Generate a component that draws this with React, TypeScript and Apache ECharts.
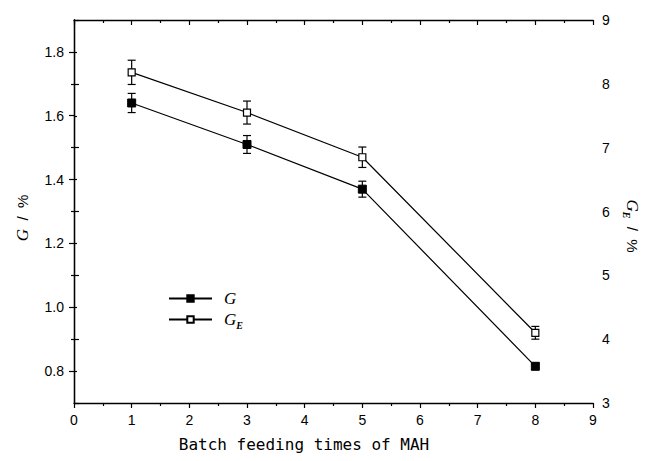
import React, { useEffect, useRef } from "react";
import * as echarts from "echarts";

// Batch feeding times of MAH
const feedTimes = [1, 3, 5, 8];
// Grafting degree G (%), left axis
const gValues = [1.64, 1.51, 1.37, 0.815];
const gErrors = [0.03, 0.028, 0.025, 0.01];
// Grafting efficiency G_E (%), right axis
const geValues = [8.18, 7.55, 6.85, 4.1];
const geErrors = [0.19, 0.18, 0.16, 0.1];

const leftMajorTicks = [0.8, 1.0, 1.2, 1.4, 1.6, 1.8];
const leftMinorTicks = [0.9, 1.1, 1.3, 1.5, 1.7];

const tickFont = "Liberation Sans, Arial, sans-serif";
const symbolFont = "Liberation Serif, Times New Roman, serif";

const richTitle = {
  g: { fontFamily: symbolFont, fontStyle: "italic", fontSize: 17, lineHeight: 22, verticalAlign: "middle", fill: "#000", color: "#000" },
  s: { fontFamily: symbolFont, fontStyle: "italic", fontWeight: "bold", fontSize: 10, lineHeight: 10, verticalAlign: "bottom", fill: "#000", color: "#000" },
  n: { fontFamily: tickFont, fontSize: 15, lineHeight: 22, verticalAlign: "middle", fill: "#000", color: "#000" },
};

function errorBarSeries(name: string, values: number[], errors: number[], yAxisIndex: number) {
  return {
    name: name + "-err",
    type: "custom",
    yAxisIndex,
    z: 1,
    silent: true,
    data: feedTimes.map((x, i) => [x, values[i] - errors[i], values[i] + errors[i]]),
    renderItem: (_params: any, api: any) => {
      const lo = api.coord([api.value(0), api.value(1)]);
      const hi = api.coord([api.value(0), api.value(2)]);
      const half = 4;
      const style = { stroke: "#000", lineWidth: 1.2 };
      return {
        type: "group",
        children: [
          { type: "line", shape: { x1: lo[0], y1: lo[1], x2: hi[0], y2: hi[1] }, style },
          { type: "line", shape: { x1: lo[0] - half, y1: lo[1], x2: lo[0] + half, y2: lo[1] }, style },
          { type: "line", shape: { x1: hi[0] - half, y1: hi[1], x2: hi[0] + half, y2: hi[1] }, style },
        ],
      };
    },
  };
}

export default function App() {
  const ref = useRef<HTMLDivElement>(null);

  useEffect(() => {
    if (!ref.current) return;
    const chart = echarts.init(ref.current, null, { renderer: "svg" });

    const axisLine = { show: true, lineStyle: { color: "#000", width: 1.3 } };
    const labelStyle = { color: "#000", fontFamily: tickFont, fontSize: 14 };

    chart.setOption({
      animation: false,
      backgroundColor: "#fff",
      grid: { left: 74, right: 52, top: 20, bottom: 58, containLabel: false },
      legend: {
        orient: "vertical",
        left: 168,
        top: 290,
        padding: 0,
        itemWidth: 43,
        itemHeight: 8,
        itemGap: 4,
        data: ["G", "GE"],
        formatter: (name: string) => (name === "G" ? "{g|G}" : "{g|G}{s|E}"),
        textStyle: { padding: [0, 0, 0, 7], rich: richTitle },
      },
      xAxis: [
        {
          type: "value",
          position: "bottom",
          min: 0,
          max: 9,
          interval: 1,
          axisLine,
          axisTick: { show: true, length: 5, lineStyle: { color: "#000", width: 1.2 } },
          minorTick: { show: true, splitNumber: 2, length: 3, lineStyle: { color: "#000", width: 1.2 } },
          axisLabel: { ...labelStyle, margin: 10 },
          splitLine: { show: false },
        },
        {
          type: "value",
          position: "top",
          min: 0,
          max: 9,
          interval: 1,
          axisLine,
          axisTick: { show: true, inside: true, length: 5, lineStyle: { color: "#000", width: 1.2 } },
          minorTick: { show: true, splitNumber: 2, length: 3, lineStyle: { color: "#000", width: 1.2 } },
          axisLabel: { show: false },
          splitLine: { show: false },
        },
      ],
      yAxis: [
        {
          type: "value",
          position: "left",
          min: 0.7,
          max: 1.9,
          interval: 0.1,
          axisLine,
          axisTick: { show: true, length: 5, customValues: leftMajorTicks, lineStyle: { color: "#000", width: 1.2 } },
          axisLabel: { ...labelStyle, margin: 10, customValues: leftMajorTicks, formatter: (v: number) => v.toFixed(1) },
          splitLine: { show: false },
        },
        {
          type: "value",
          position: "right",
          min: 3,
          max: 9,
          interval: 1,
          axisLine,
          axisTick: { show: true, length: 5, lineStyle: { color: "#000", width: 1.2 } },
          minorTick: { show: true, splitNumber: 2, length: 3, lineStyle: { color: "#000", width: 1.2 } },
          axisLabel: { ...labelStyle, margin: 9 },
          splitLine: { show: false },
        },
        {
          type: "value",
          position: "left",
          min: 0.7,
          max: 1.9,
          interval: 0.1,
          axisLine: { show: false },
          axisTick: { show: true, length: 3, customValues: leftMinorTicks, lineStyle: { color: "#000", width: 1.2 } },
          axisLabel: { show: false },
          splitLine: { show: false },
        },
      ],
      series: [
        errorBarSeries("G", gValues, gErrors, 0),
        errorBarSeries("GE", geValues, geErrors, 1),
        {
          name: "G",
          type: "line",
          yAxisIndex: 0,
          z: 3,
          data: feedTimes.map((x, i) => [x, gValues[i]]),
          symbol: "rect",
          symbolSize: 8,
          showAllSymbol: true,
          lineStyle: { color: "#000", width: 1.2 },
          itemStyle: { color: "#000", borderColor: "#000", borderWidth: 1 },
        },
        {
          name: "GE",
          type: "line",
          yAxisIndex: 1,
          z: 3,
          data: feedTimes.map((x, i) => [x, geValues[i]]),
          symbol: "rect",
          symbolSize: 7,
          showAllSymbol: true,
          lineStyle: { color: "#000", width: 1.2 },
          itemStyle: { color: "#fff", borderColor: "#000", borderWidth: 1.2 },
        },
      ],
      graphic: [
        {
          type: "text",
          x: 304,
          y: 444,
          style: {
            text: "Batch feeding times of MAH",
            fontFamily: "DejaVu Sans Mono, Liberation Mono, monospace",
            fontSize: 16,
            fill: "#000",
            align: "center",
            verticalAlign: "middle",
          },
        },
        {
          type: "text",
          x: 22,
          y: 218,
          rotation: Math.PI / 2,
          style: {
            text: "{g|G}{n|  /  %}",
            rich: richTitle,
            align: "center",
            verticalAlign: "middle",
          },
        },
        {
          type: "text",
          x: 632,
          y: 226,
          rotation: -Math.PI / 2,
          style: {
            text: "{g|G}{s|E}{n|  /  %}",
            rich: richTitle,
            align: "center",
            verticalAlign: "middle",
          },
        },
      ],
    });

    return () => chart.dispose();
  }, []);

  return (
    <div
      ref={ref}
      style={{ position: "absolute", left: 0, top: 0, width: 645, height: 461, background: "#fff" }}
    />
  );
}
